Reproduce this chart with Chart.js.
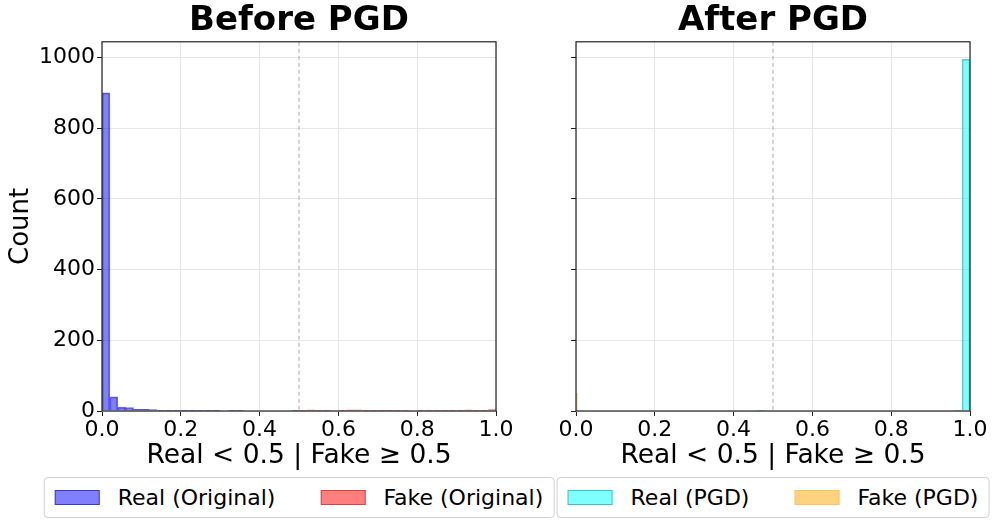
<!DOCTYPE html>
<html>
<head>
<meta charset="utf-8">
<script src="https://cdn.jsdelivr.net/npm/chart.js@4.4.0/dist/chart.umd.min.js"></script>
<style>
  html, body { margin: 0; padding: 0; background: #fff; }
  #wrap { position: relative; width: 996px; height: 526px; overflow: hidden; font-family: 'DejaVu Sans', sans-serif; }
  canvas { position: absolute; top: 0; }
  .legend { position: absolute; top: 477px; height: 41px; border: 1px solid #d0d0d0; border-radius: 4px;
            display: flex; align-items: center; padding: 0 10px; box-sizing: border-box; font-size: 22px;
            white-space: nowrap; transform: translateX(-50%); background: #fff; color: #000; }
  .item { display: flex; align-items: center; }
  .item + .item { margin-left: 45px; }
  .swatch { width: 45px; height: 15px; margin-right: 18px; box-sizing: border-box; border: 1px solid; }
</style>
</head>
<body>
<div id="wrap">
  <canvas id="before" width="530" height="526" style="left:0"></canvas>
  <canvas id="after" width="466" height="526" style="left:530px"></canvas>
</div>
<script>
// ---------------------------
// histogram data (50 bins on [0, 1])
// ---------------------------
const binCount = 50;
const binWidth = 1 / binCount;
const binCenters = Array.from({length: binCount}, (_, i) => +(i * binWidth + binWidth / 2).toFixed(3));

const realOriginal = [900, 40, 11, 10, 5, 5, 4, 2, 2, 1, 2, 1, 1, 1, 2, 0, 1, 1, 0, 0,
                      0, 0, 0, 0, 1, 0, 0, 0, 0, 0, 0, 0, 0, 0, 0, 0, 0, 0, 0, 0,
                      0, 0, 0, 0, 0, 0, 0, 0, 0, 0];
const fakeOriginal = [0, 0, 0, 0, 0, 0, 0, 0, 0, 0, 0, 0, 0, 0, 0, 0, 0, 0, 0, 0,
                      0, 0, 0, 0, 0, 2, 3, 2, 2, 0, 2, 3, 3, 2, 1, 2, 1, 2, 1, 0,
                      1, 2, 2, 2, 2, 2, 3, 2, 1, 4];
const realPGD = [0, 0, 0, 0, 0, 0, 0, 0, 0, 0, 0, 0, 0, 0, 0, 0, 0, 0, 0, 0,
                 0, 0, 0, 1, 0, 0, 0, 0, 0, 0, 0, 0, 0, 0, 0, 0, 0, 0, 0, 0,
                 0, 0, 0, 0, 0, 0, 0, 0, 2, 995];
// fake PGD scores all sit right at 0, in very narrow bins
const fakePGDCenters = [0.002, 0.006];
const fakePGD = [50, 0];

const xTicks = [0, 0.2, 0.4, 0.6, 0.8, 1.0];
const threshold = 0.5;
const yMax = Math.max(...realOriginal, ...fakeOriginal, ...realPGD, ...fakePGD) * 1.05;

const series = {
  realOriginal: {label: 'Real (Original)', fill: 'rgba(0, 0, 255, 0.5)', edge: 'rgba(0, 0, 170, 0.55)'},
  fakeOriginal: {label: 'Fake (Original)', fill: 'rgba(255, 0, 0, 0.5)', edge: 'rgba(190, 0, 0, 0.5)'},
  realPGD: {label: 'Real (PGD)', fill: 'rgba(0, 255, 255, 0.5)', edge: 'rgba(0, 150, 150, 0.55)'},
  fakePGD: {label: 'Fake (PGD)', fill: 'rgba(255, 165, 0, 0.5)', edge: 'rgba(255, 180, 60, 0.5)'}
};

Chart.defaults.font.family = "'DejaVu Sans', sans-serif";
Chart.defaults.color = '#000';

const framePlugin = {
  id: 'frame',
  beforeDatasetsDraw(chart) {
    const {ctx, chartArea: a, scales: {x}} = chart;
    const px = x.getPixelForValue(threshold);
    ctx.save();
    ctx.strokeStyle = '#aaaaaa';
    ctx.lineWidth = 1;
    ctx.setLineDash([4, 3]);
    ctx.beginPath();
    ctx.moveTo(px, a.top);
    ctx.lineTo(px, a.bottom);
    ctx.stroke();
    ctx.restore();
  },
  afterDatasetsDraw(chart) {
    const {ctx, chartArea: a} = chart;
    ctx.save();
    ctx.strokeStyle = '#222';
    ctx.lineWidth = 1.2;
    ctx.strokeRect(a.left, a.top, a.right - a.left, a.bottom - a.top);
    ctx.restore();
  }
};

function hist(s, centers, counts, axis) {
  return {
    label: s.label,
    data: centers.map((c, i) => ({x: c, y: counts[i]})),
    backgroundColor: s.fill,
    borderColor: s.edge,
    borderWidth: 1,
    grouped: false,
    barPercentage: 1,
    categoryPercentage: 1,
    xAxisID: axis || 'x'
  };
}

function makeChart(id, title, datasets, showY, yWidth, padRight) {
  return new Chart(document.getElementById(id), {
    type: 'bar',
    data: {datasets: datasets},
    plugins: [framePlugin],
    options: {
      responsive: false,
      animation: false,
      layout: {padding: {top: 1, right: padRight, bottom: 45, left: 0}},
      plugins: {
        legend: {display: false},
        tooltip: {enabled: false},
        title: {
          display: true, text: title, fullSize: false,
          font: {size: 34, weight: 'bold'}, padding: {top: 0, bottom: 0}
        }
      },
      scales: {
        x: {
          type: 'linear', min: 0, max: 1, offset: false,
          afterBuildTicks(s) { s.ticks = xTicks.map(v => ({value: v})); },
          afterFit(s) { s.height = 70; },
          ticks: {font: {size: 22}, padding: 1, maxRotation: 0, autoSkip: false,
                  callback: v => Number(v).toFixed(1)},
          grid: {color: '#e6e6e6', offset: false, tickColor: '#222', tickLength: 5},
          border: {display: false},
          title: {display: true, text: 'Real < 0.5 | Fake ≥ 0.5', font: {size: 26.5},
                  padding: {top: 0, bottom: 9}}
        },
        x2: {type: 'linear', min: 0, max: 1, offset: false, display: false},
        y: {
          min: 0, max: yMax,
          afterFit(s) { s.width = yWidth; },
          ticks: {stepSize: 200, includeBounds: false, font: {size: 22}, padding: 2, display: showY,
                  callback: v => String(v)},
          grid: {color: '#e6e6e6', tickColor: '#222', tickLength: 5},
          border: {display: false},
          title: {display: showY, text: 'Count', font: {size: 26}, padding: {top: 6, bottom: 4}}
        }
      }
    }
  });
}

const before = makeChart('before', 'Before PGD', [
  hist(series.realOriginal, binCenters, realOriginal),
  hist(series.fakeOriginal, binCenters, fakeOriginal)
], true, 102, 34);

const after = makeChart('after', 'After PGD', [
  hist(series.realPGD, binCenters, realPGD),
  hist(series.fakePGD, fakePGDCenters, fakePGD, 'x2')
], false, 46, 26);

// html legends, centred under each plot
function legend(chart, left, items) {
  const box = document.createElement('div');
  box.className = 'legend';
  items.forEach(s => {
    const it = document.createElement('div');
    it.className = 'item';
    const sw = document.createElement('span');
    sw.className = 'swatch';
    sw.style.background = s.fill;
    sw.style.borderColor = s.edge;
    it.appendChild(sw);
    it.appendChild(document.createTextNode(s.label));
    box.appendChild(it);
  });
  const a = chart.chartArea;
  box.style.left = (left + (a.left + a.right) / 2) + 'px';
  document.getElementById('wrap').appendChild(box);
}
legend(before, 0, [series.realOriginal, series.fakeOriginal]);
legend(after, 530, [series.realPGD, series.fakePGD]);
</script>
</body>
</html>
